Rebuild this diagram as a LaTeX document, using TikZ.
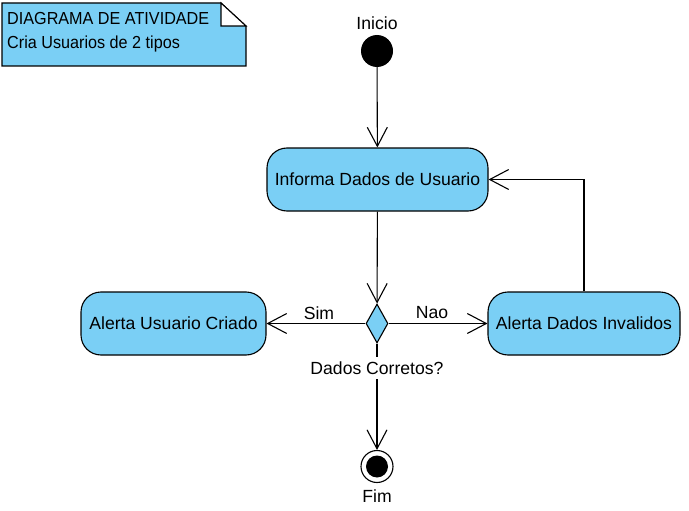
\documentclass[tikz,border=0pt]{standalone}
\usepackage{fontspec}
\setmainfont{Liberation Sans}
\newfontfamily\notefont[FakeStretch=0.93]{Liberation Sans}
\usetikzlibrary{shapes.geometric,arrows.meta}
\definecolor{umlblue}{RGB}{122,207,245}
\tikzset{
  actbox/.style={draw=black, line width=1.1pt, fill=umlblue, rounded corners=20pt, inner sep=0pt, minimum height=63pt, font=\fontsize{17.6}{20}\selectfont},
  flow/.style={draw=black, line width=1.1pt, -{Straight Barb[length=19pt,width=20pt]}},
  lbl/.style={font=\fontsize{17.6}{20}\selectfont, inner sep=0pt},
  notetext/.style={font=\notefont\fontsize{17.4}{19}\selectfont, inner sep=0pt, anchor=west}
}
\begin{document}
\begin{tikzpicture}[x=1pt,y=-1pt]
\useasboundingbox (0,0) rectangle (689,511);
% note
\draw[line width=1.1pt, fill=umlblue] (2,3) -- (221,3) -- (246,26) -- (246,66) -- (2,66) -- cycle;
\draw[line width=1.1pt, fill=white] (221,3) -- (221,26) -- (246,26) -- cycle;
\node[notetext] (n1) at (7,19) {DIAGRAMA DE ATIVIDADE};
\node[notetext] (n2) at (7,44) {Cria Usuarios de 2 tipos};
% initial
\node[circle, fill=black, minimum size=32pt, inner sep=0pt] (init) at (377,51) {};
\node[lbl] (initl) at (377,23) {Inicio};
% actions
\node[actbox, minimum width=221pt] (ia) at (377.5,179.5) {Informa Dados de Usuario};
\node[actbox, minimum width=185pt] (la) at (173.5,323.5) {Alerta Usuario Criado};
\node[actbox, minimum width=192pt] (ra) at (584,323.5) {Alerta Dados Invalidos};
% decision
\node[diamond, draw=black, line width=1.1pt, fill=umlblue, aspect=0.564, minimum width=22pt, minimum height=39pt, inner sep=0pt] (dec) at (377,323.5) {};
% final
\node[circle, draw=black, line width=1.1pt, fill=white, minimum size=32pt, inner sep=0pt] (fin) at (377,466.5) {};
\node[circle, fill=black, minimum size=22pt, inner sep=0pt] (fini) at (377,466.5) {};
\node[lbl] (finl) at (377,496) {Fim};
% labels
\node[lbl] (sim) at (319,313) {Sim};
\node[lbl] (nao) at (432,313) {Nao};
% flows
\draw[flow] (init) -- (ia);
\draw[flow] (ia) -- (dec);
\draw[flow] (dec) -- (la);
\draw[flow] (dec) -- (ra);
\draw[flow] (dec) -- (fin);
\draw[flow] (ra.north) |- (ia.east);
\node[lbl, fill=white, inner ysep=5pt, inner xsep=2pt] (decl) at (377,368) {Dados Corretos?};
\end{tikzpicture}
\end{document}
